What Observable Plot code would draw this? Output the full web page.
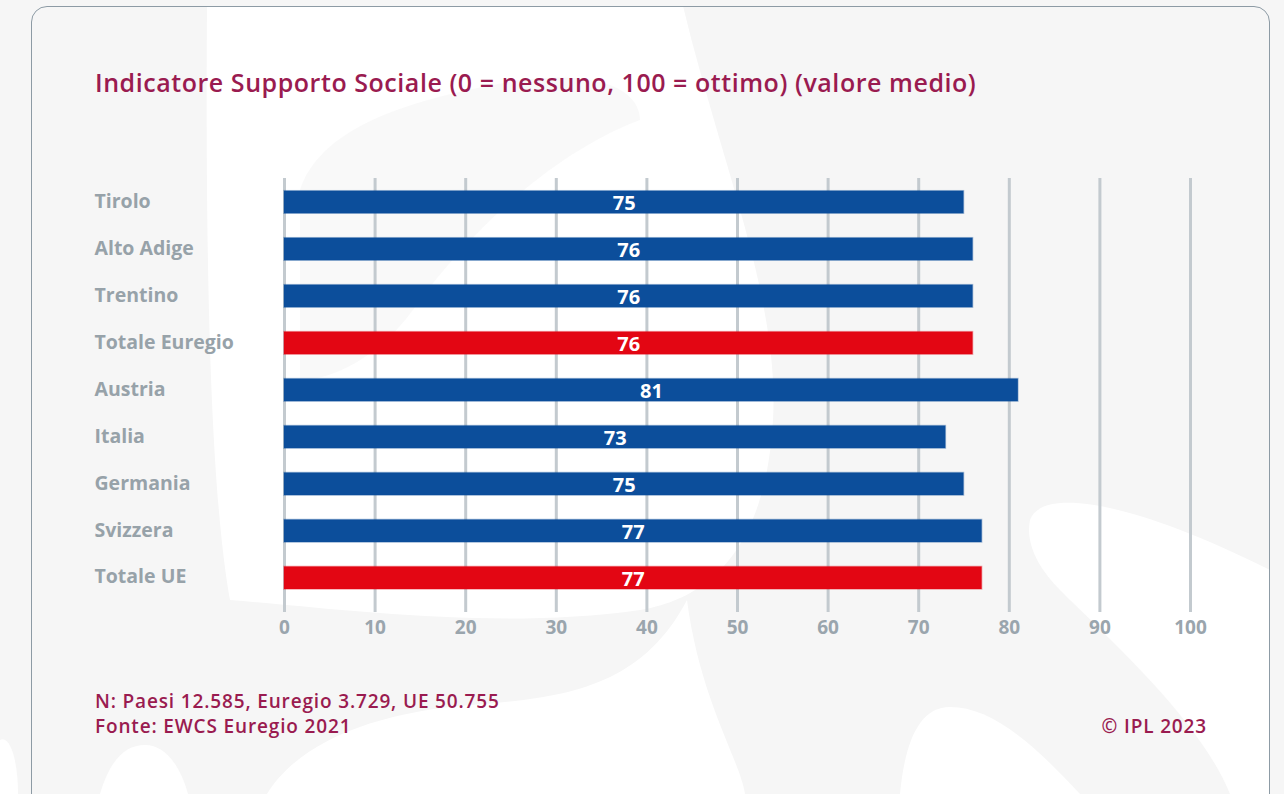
<!DOCTYPE html>
<html>
<head>
<meta charset="utf-8">
<script src="https://cdn.jsdelivr.net/npm/d3@7"></script>
<script src="https://cdn.jsdelivr.net/npm/@observablehq/plot@0.6"></script>
<style>
  html, body { margin: 0; padding: 0; background: #f6f6f6; width: 1284px; height: 794px; overflow: hidden; font-family: "Open Sans", "Noto Sans", sans-serif; }
  #deco { position: absolute; left: 0; top: 0; }
  #card { position: absolute; left: 31px; top: 6px; width: 1237px; height: 820px; border: 1.5px solid #8d9ba5; border-radius: 16px; }
  #title { position: absolute; left: 95px; top: 65px; font-size: 25px; font-weight: 600; color: #9a1b50; letter-spacing: 0.55px; white-space: nowrap; }
  #chart { position: absolute; left: 0; top: 160px; }
  .foot { position: absolute; font-size: 19px; font-weight: 600; color: #9a1b50; white-space: nowrap; letter-spacing: 0.85px; }
</style>
</head>
<body>
<svg id="deco" width="1284" height="794">
  <path fill="#ffffff" d="M207,6 L683,6 C720,160 780,300 773,420 C765,560 700,600 640,610 C500,630 350,610 230,600 C212,500 205,300 207,6 Z"/>
  <path fill="#f6f6f6" d="M300,190 C320,130 400,100 520,80 C600,70 640,90 640,120 C560,150 480,220 420,300 C380,360 330,380 300,380 Z" opacity="0.7"/>
  <path fill="#ffffff" d="M267,794 C300,740 380,712 470,705 C560,698 640,690 687,600 C700,700 740,760 745,794 Z"/>
  <path fill="#ffffff" d="M900,794 C905,740 920,707 950,707 C990,707 1030,740 1080,794 Z"/>
  <path fill="#ffffff" d="M1030,520 C1040,490 1120,495 1270,570 L1270,794 L1230,794 C1200,720 1110,640 1060,590 C1040,570 1025,545 1030,520 Z"/>
  <path fill="#ffffff" d="M0,794 L0,740 C10,735 18,760 18,794 Z"/>
  <path fill="#ffffff" d="M100,794 C110,760 125,745 145,745 C165,745 180,765 188,794 Z"/>
</svg>
<div id="card"></div>
<div id="title">Indicatore Supporto Sociale (0 = nessuno, 100 = ottimo) (valore medio)</div>
<div id="chart"></div>
<div class="foot" style="left:95px; top:688px;">N: Paesi 12.585, Euregio 3.729, UE 50.755</div>
<div class="foot" style="left:95px; top:713px;">Fonte: EWCS Euregio 2021</div>
<div class="foot" style="right:77px; top:713px;">© IPL 2023</div>
<script>
const categories = ["Tirolo", "Alto Adige", "Trentino", "Totale Euregio", "Austria", "Italia", "Germania", "Svizzera", "Totale UE"];
const values = [75, 76, 76, 76, 81, 73, 75, 77, 77];
const groups = ["regione", "regione", "regione", "totale", "paese", "paese", "paese", "paese", "totale"];
const xTicks = [0, 10, 20, 30, 40, 50, 60, 70, 80, 90, 100];

const data = categories.map((c, i) => ({name: c, value: values[i], group: groups[i]}));
const colorOf = g => g === "totale" ? "#e30613" : "#0c4e9b";

const chart = Plot.plot({
  width: 1284,
  height: 492,
  marginLeft: 284,
  marginRight: 94,
  marginTop: 18,
  marginBottom: 40,
  style: {background: "transparent", fontFamily: "'Open Sans', 'Noto Sans', sans-serif"},
  x: {domain: [0, 100], ticks: xTicks},
  y: {domain: categories, paddingInner: 0.52, paddingOuter: 0.38, align: 0.356, round: false},
  marks: [
    Plot.ruleX(xTicks, {stroke: "#c3cacf", strokeWidth: 3}),
    Plot.barX(data, {y: "name", x: "value", fill: d => colorOf(d.group), stroke: d => colorOf(d.group), strokeOpacity: 0.35, strokeWidth: 1.5}),
    Plot.text(data, {y: "name", x: d => d.value / 2, text: d => String(d.value), fill: "white", fontSize: 20, fontWeight: 700, dy: 1}),
    Plot.axisX({ticks: xTicks, tickSize: 0, tickPadding: 8, fontSize: 19, fontWeight: 700, color: "#9aa5ad", label: null}),
    Plot.axisY({tickSize: 0, tickPadding: 0, textAnchor: "start", dx: -190, dy: -1, fontSize: 19.5, fontWeight: 700, color: "#97a2a9", label: null})
  ]
});
document.getElementById("chart").appendChild(chart);
</script>
</body>
</html>
